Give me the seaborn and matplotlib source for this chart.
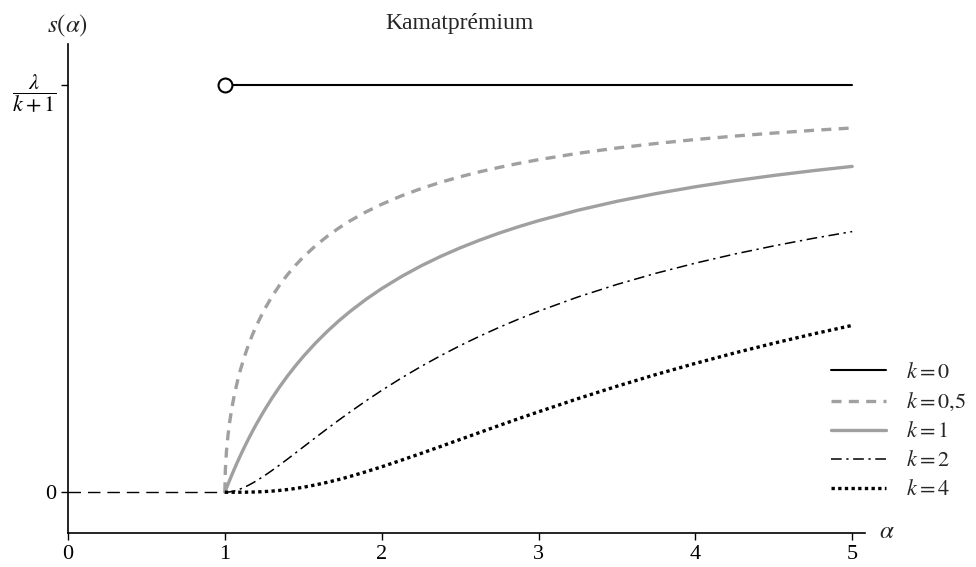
import matplotlib
matplotlib.use('Agg')
import matplotlib.pyplot as plt
import seaborn as sns

# alpha grid and the curves (s(alpha) in units of lambda/(k+1))
alpha = [1, 1.003, 1.01, 1.02, 1.03, 1.045, 1.06, 1.08, 1.1, 1.125, 1.15, 1.175,
         1.2, 1.25, 1.3, 1.35, 1.4, 1.45, 1.5, 1.575, 1.65, 1.725, 1.8, 1.9, 2,
         2.125, 2.25, 2.375, 2.5, 2.625, 2.75, 2.875, 3, 3.25, 3.5, 3.75, 4,
         4.25, 4.5, 4.75, 5]
s_k05 = [0, 0.0547, 0.0995, 0.140, 0.1706, 0.2076, 0.2379, 0.2722, 0.3015,
         0.3333, 0.3612, 0.3859, 0.4082, 0.4472, 0.4804, 0.5092, 0.5345, 0.5571,
         0.5774, 0.6042, 0.6276, 0.6483, 0.6667, 0.6883, 0.7071, 0.7276, 0.7454,
         0.7609, 0.7746, 0.7868, 0.7977, 0.8076, 0.8165, 0.8321, 0.8452, 0.8563,
         0.8660, 0.8745, 0.8819, 0.8885, 0.8944]
s_k1 = [0, 0.0030, 0.0099, 0.0196, 0.0291, 0.0431, 0.0566, 0.0741, 0.0909,
        0.1111, 0.1304, 0.1489, 0.1667, 0.2, 0.2308, 0.2593, 0.2857, 0.3103,
        0.3333, 0.3651, 0.3939, 0.4203, 0.4444, 0.4737, 0.5, 0.5294, 0.5556,
        0.5789, 0.6, 0.6190, 0.6364, 0.6522, 0.6667, 0.6923, 0.7143, 0.7333,
        0.75, 0.7647, 0.7778, 0.7895, 0.8]
s_k2 = [0, 0.00001, 0.0001, 0.0004, 0.00085, 0.0019, 0.0032, 0.0055, 0.0083,
        0.0123, 0.0170, 0.0222, 0.0278, 0.04, 0.0533, 0.0672, 0.0816, 0.0963,
        0.1111, 0.1333, 0.1552, 0.1767, 0.1975, 0.2244, 0.25, 0.2803, 0.3086,
        0.3351, 0.36, 0.3832, 0.4050, 0.4254, 0.4444, 0.4793, 0.5102, 0.5378,
        0.5625, 0.5848, 0.6049, 0.6233, 0.64]
s_k4 = [0, 0, 0, 0, 0, 0, 0.00001, 0.00003, 0.00007, 0.00015, 0.00029, 0.00049,
        0.00077, 0.0016, 0.0028, 0.0045, 0.0067, 0.0093, 0.0123, 0.0178, 0.0241,
        0.0312, 0.0390, 0.0504, 0.0625, 0.0786, 0.0952, 0.1123, 0.1296, 0.1468,
        0.1640, 0.1810, 0.1975, 0.2297, 0.2603, 0.2892, 0.3164, 0.3420, 0.3659,
        0.3885, 0.4096]

# k = 0: flat line from alpha = 1, zero part below alpha = 1
k0_x = [1, 5]
k0_y = [1, 1]
zero_x = [0, 1]
zero_y = [0, 0]

x_ticks = [0, 1, 2, 3, 4, 5]
y_ticks = [0, 1]
y_ticklabels = ['0', r'$\dfrac{\lambda}{k+1}$']

sns.set_style('white')
plt.rcParams['font.family'] = ['Liberation Serif', 'DejaVu Serif']
plt.rcParams['mathtext.fontset'] = 'stix'
plt.rcParams['font.size'] = 15

gray = '#a0a0a0'

fig = plt.figure(figsize=(9.76, 5.67), dpi=100)
ax = fig.add_axes([0.0697, 0.06, 0.8163, 0.862])

sns.lineplot(x=zero_x, y=zero_y, ax=ax, color='black', lw=1.0,
             linestyle=(0, (9, 5)), legend=False)
sns.lineplot(x=k0_x, y=k0_y, ax=ax, color='black', lw=1.5, label=r'$k = 0$')
sns.lineplot(x=alpha, y=s_k05, ax=ax, color=gray, lw=2.4,
             linestyle=(0, (3, 2.2)), label=r'$k = 0{,}5$')
sns.lineplot(x=alpha, y=s_k1, ax=ax, color=gray, lw=2.4, label=r'$k = 1$')
sns.lineplot(x=alpha, y=s_k2, ax=ax, color='black', lw=1.1,
             linestyle=(0, (7, 3, 1.5, 3)), label=r'$k = 2$')
sns.lineplot(x=alpha, y=s_k4, ax=ax, color='black', lw=2.4,
             linestyle=(0, (1, 1)), label=r'$k = 4$')
ax.plot([1], [1], marker='o', ms=10, mfc='white', mec='black', mew=1.5,
        zorder=5, clip_on=False)

ax.set_xlim(0, 5.08)
ax.set_ylim(-0.1, 1.1)
ax.set_xticks(x_ticks)
ax.set_yticks(y_ticks)
ax.set_yticklabels(y_ticklabels)
ax.tick_params(axis='both', direction='out', length=5, width=1.0,
               colors='black', labelsize=16, bottom=True, left=True)
ax.tick_params(axis='x', pad=4)
for side in ['top', 'right']:
    ax.spines[side].set_visible(False)
for side in ['left', 'bottom']:
    ax.spines[side].set_color('black')
    ax.spines[side].set_linewidth(1.2)
ax.set_xlabel('')
ax.set_ylabel('')

fig.text(0.0687, 0.955, r'$s(\alpha)$', ha='center', va='center', fontsize=18)
fig.text(0.471, 0.958, 'Kamatprémium', ha='center', va='center', fontsize=17)
fig.text(0.901, 0.062, r'$\alpha$', ha='left', va='center', fontsize=18)

ax.legend(loc='lower right', bbox_to_anchor=(1.006, 0.09),
          bbox_transform=fig.transFigure, frameon=False, fontsize=16,
          handlelength=2.5, labelspacing=0.38, borderpad=0.2, handletextpad=0.9)

plt.savefig('out.png', dpi=100)
